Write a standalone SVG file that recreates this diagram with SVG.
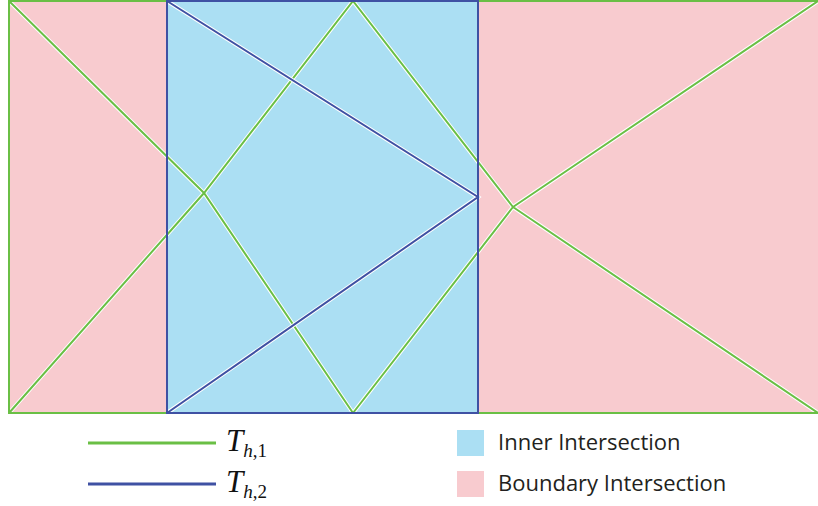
<svg xmlns="http://www.w3.org/2000/svg" width="818" height="506" viewBox="0 0 818 506">
<style>
.halo{fill:none;stroke:#ffffff;stroke-width:4;stroke-linejoin:miter}
.g{fill:none;stroke:#6abf45;stroke-width:2}
.b{fill:none;stroke:#3f51a3;stroke-width:2}
.lbl{font-family:"Open Sans","Noto Sans",sans-serif;font-size:22px;fill:#231f20}
.math{font-family:"Liberation Serif","DejaVu Serif",serif;fill:#111}
</style>
<rect width="818" height="506" fill="#ffffff"/>
<g id="boundary-region"><rect x="9" y="1" width="812" height="412" fill="#f8cbcf"/></g>
<g id="inner-region"><rect x="167" y="1" width="311" height="412" fill="#abdff3"/></g>
<g id="connectors">
<g id="mesh1-halo">
<path class="halo" d="M9,1 L204,193 L353,413 M9,413 L204,193 L353,1 L513,207 L818,1 M353,413 L513,207 L818,413"/>
</g>
<g id="mesh1">
<rect class="g" x="9" y="1" width="812" height="412"/>
<path class="g" d="M9,1 L204,193 L353,413 M9,413 L204,193 L353,1 L513,207 L818,1 M353,413 L513,207 L818,413"/>
</g>
<g id="mesh2">
<path class="halo" d="M167,1 L478,197 L167,413"/>
<rect class="b" x="167" y="1" width="311" height="412"/>
<path class="b" d="M167,1 L478,197 L167,413"/>
</g>
</g>
<g id="legend-t1">
<line x1="88" y1="443" x2="216" y2="443" stroke="#6abf45" stroke-width="3"/>
<text class="math" x="226" y="451"><tspan font-size="31" font-style="italic">T</tspan><tspan font-size="19" dy="6" font-style="italic">h</tspan><tspan font-size="19">,1</tspan></text>
</g>
<g id="legend-t2">
<line x1="88" y1="484" x2="216" y2="484" stroke="#3f51a3" stroke-width="3"/>
<text class="math" x="226" y="492"><tspan font-size="31" font-style="italic">T</tspan><tspan font-size="19" dy="6" font-style="italic">h</tspan><tspan font-size="19">,2</tspan></text>
</g>
<g id="legend-inner">
<rect x="457" y="430" width="27" height="26" fill="#abdff3"/>
<text class="lbl" x="498" y="450">Inner Intersection</text>
</g>
<g id="legend-boundary">
<rect x="457" y="471" width="27" height="26" fill="#f8cbcf"/>
<text class="lbl" x="498" y="491">Boundary Intersection</text>
</g>
</svg>
